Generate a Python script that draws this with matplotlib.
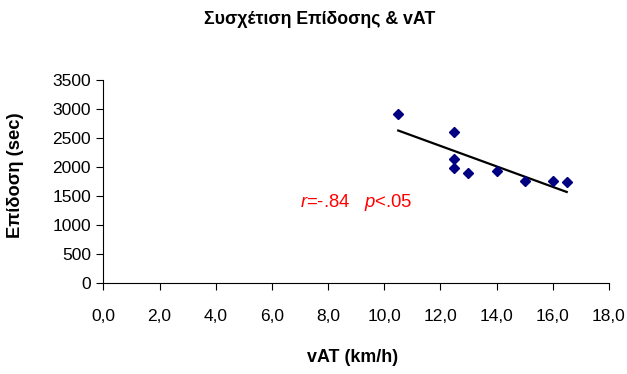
import numpy as np
import matplotlib.pyplot as plt

plt.rcParams['font.family'] = ['Liberation Sans', 'DejaVu Sans']
plt.rcParams['mathtext.fontset'] = 'custom'
plt.rcParams['mathtext.rm'] = 'Liberation Sans'
plt.rcParams['mathtext.it'] = 'Liberation Sans:italic'

# vAT (km/h) and performance (sec)
vat = [10.5, 12.5, 12.5, 12.5, 13.0, 14.0, 15.0, 16.0, 16.5]
perf = [2900, 2590, 2135, 1985, 1900, 1930, 1750, 1750, 1735]

x_ticks = [0, 2, 4, 6, 8, 10, 12, 14, 16, 18]
y_ticks = [0, 500, 1000, 1500, 2000, 2500, 3000, 3500]

fig = plt.figure(figsize=(6.27, 3.74), dpi=100)
ax = fig.add_axes([0.165, 0.2433, 0.806, 0.544])

ax.plot(vat, perf, 'D', color='#000080', markersize=5.6, zorder=3)

# linear trend line
k, b = np.polyfit(vat, perf, 1)
xs = np.array([min(vat), max(vat)])
ax.plot(xs, k * xs + b, color='black', linewidth=1.6)

ax.set_xlim(0, 18)
ax.set_ylim(0, 3500)
ax.set_xticks(x_ticks)
ax.set_xticklabels([f'{v:.1f}'.replace('.', ',') for v in x_ticks])
ax.set_yticks(y_ticks)
ax.tick_params(labelsize=12.5, direction='out', length=5, width=0.8, pad=4)
ax.tick_params(axis='x', pad=14)
ax.spines['top'].set_visible(False)
ax.spines['right'].set_visible(False)

ax.text(7.0, 1380, r'$r$=-.84   $p$<.05', color='red', fontsize=13.3,
        va='center', ha='left')

fig.text(0.51, 0.947, 'Συσχέτιση Επίδοσης & vAT', ha='center', va='center',
         fontsize=12.8, fontweight='bold')
fig.text(0.563, 0.045, 'vAT (km/h)', ha='center', va='center',
         fontsize=12.9, fontweight='bold')
fig.text(0.024, 0.532, 'Επίδοση (sec)', ha='center', va='center',
         rotation=90, fontsize=13.2, fontweight='bold')

fig.savefig('out.png', dpi=100)
